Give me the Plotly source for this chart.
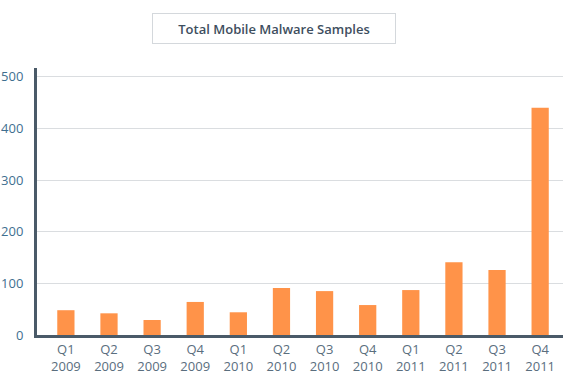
import plotly.graph_objects as go

quarters = ["Q1", "Q2", "Q3", "Q4", "Q1", "Q2", "Q3", "Q4", "Q1", "Q2", "Q3", "Q4"]
years = ["2009", "2009", "2009", "2009", "2010", "2010", "2010", "2010", "2011", "2011", "2011", "2011"]
samples = [48, 42, 29, 64, 44, 91, 85, 58, 87, 141, 126, 440]
y_ticks = [0, 100, 200, 300, 400, 500]

labels = [f"{q}<br>{y}" for q, y in zip(quarters, years)]

fig = go.Figure(go.Bar(x=labels, y=samples, marker_color="#ff9349", marker_line_width=0,
                       hoverinfo="skip"))

fig.update_layout(
    width=574, height=386,
    margin=dict(l=37, r=11, t=68, b=51),
    paper_bgcolor="white", plot_bgcolor="white",
    bargap=0.6,
    showlegend=False,
    font=dict(family="Open Sans, sans-serif", size=13, color="#5a6e7e"),
    annotations=[dict(
        text="Total Mobile Malware Samples",
        xref="paper", yref="paper", x=(274 - 37) / 526, y=1 + (68 - 28) / 267,
        xanchor="center", yanchor="middle", showarrow=False,
        font=dict(size=13, color="#3e4e5e", family="Open Sans, sans-serif", weight=600),
        bordercolor="#d4d8dc", borderwidth=1, borderpad=6,
        width=230, height=17,
    )],
)
fig.update_xaxes(
    automargin=False, range=[-0.67, 11.53],
    showline=True, linecolor="#4a5a68", linewidth=3,
    showgrid=False, ticks="", tickfont=dict(color="#5a6e7e", size=13),
)
fig.update_yaxes(
    automargin=False,
    range=[0, 517], tickvals=y_ticks,
    showline=True, linecolor="#4a5a68", linewidth=3,
    showgrid=True, gridcolor="#dadde0", gridwidth=1,
    zeroline=False, ticks="", ticklabelstandoff=8,
    tickfont=dict(color="#3f6f90", size=13),
)

fig.write_html("out.html", config={"displayModeBar": False},
               post_script="document.body.style.margin='0px';document.body.style.overflow='hidden';")
